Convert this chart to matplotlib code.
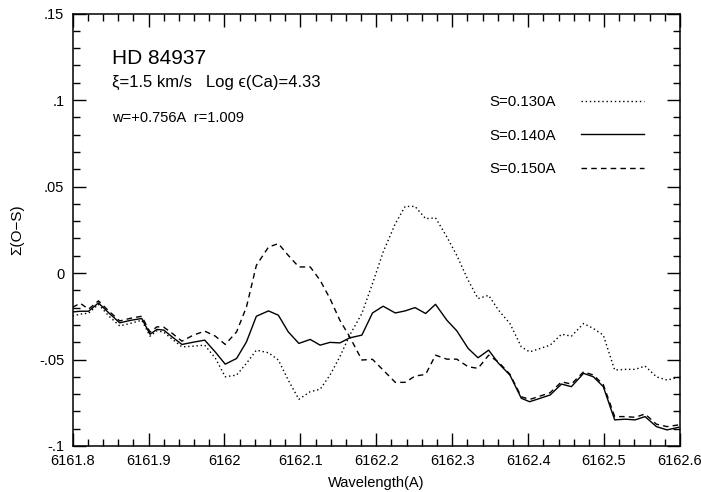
import matplotlib
matplotlib.use('Agg')
import matplotlib.pyplot as plt
from matplotlib.ticker import MultipleLocator

plt.rcParams['font.family'] = ['Liberation Sans', 'DejaVu Sans']

# wavelength grid (A)
wave = [6161.800, 6161.810, 6161.821, 6161.834, 6161.848, 6161.862, 6161.877, 6161.891,
        6161.902, 6161.911, 6161.920, 6161.931, 6161.944, 6161.959, 6161.974, 6161.988,
        6162.001, 6162.016, 6162.029, 6162.042, 6162.058, 6162.071, 6162.084, 6162.098,
        6162.113, 6162.126, 6162.139, 6162.152, 6162.165, 6162.181, 6162.195, 6162.209,
        6162.225, 6162.238, 6162.251, 6162.265, 6162.278, 6162.293, 6162.306, 6162.321,
        6162.334, 6162.348, 6162.361, 6162.376, 6162.391, 6162.402, 6162.416, 6162.429,
        6162.444, 6162.457, 6162.473, 6162.486, 6162.499, 6162.514, 6162.528, 6162.541,
        6162.554, 6162.569, 6162.583, 6162.598]

# S=0.130A (dotted)
s130 = [-0.0248, -0.0238, -0.0232, -0.0181, -0.0250, -0.0306, -0.0290, -0.0273,
        -0.0365, -0.0334, -0.0342, -0.0382, -0.0427, -0.0423, -0.0417, -0.0492,
        -0.0600, -0.0590, -0.0522, -0.0446, -0.0461, -0.0503, -0.0619, -0.0730,
        -0.0686, -0.0672, -0.0590, -0.0484, -0.0359, -0.0234, -0.0061, 0.0121,
        0.0285, 0.0385, 0.0385, 0.0314, 0.0319, 0.0208, 0.0102, -0.0042,
        -0.0148, -0.0129, -0.0215, -0.0292, -0.0427, -0.0456, -0.0436, -0.0417,
        -0.0354, -0.0365, -0.0292, -0.0321, -0.0359, -0.0561, -0.0557, -0.0557,
        -0.0538, -0.0600, -0.0619, -0.0603]

# S=0.140A (solid)
s140 = [-0.0225, -0.0221, -0.0221, -0.0173, -0.0232, -0.0288, -0.0273, -0.0263,
        -0.0354, -0.0326, -0.0330, -0.0369, -0.0413, -0.0400, -0.0388, -0.0457,
        -0.0527, -0.0494, -0.0398, -0.0250, -0.0219, -0.0244, -0.0340, -0.0407,
        -0.0384, -0.0417, -0.0401, -0.0404, -0.0375, -0.0359, -0.0231, -0.0192,
        -0.0231, -0.0219, -0.0200, -0.0234, -0.0181, -0.0273, -0.0334, -0.0436,
        -0.0490, -0.0446, -0.0522, -0.0590, -0.0724, -0.0744, -0.0724, -0.0705,
        -0.0642, -0.0657, -0.0580, -0.0600, -0.0657, -0.0849, -0.0845, -0.0849,
        -0.0830, -0.0888, -0.0907, -0.0892]

# S=0.150A (dashed)
s150 = [-0.0198, -0.0175, -0.0209, -0.0161, -0.0221, -0.0277, -0.0261, -0.0250,
        -0.0342, -0.0311, -0.0313, -0.0348, -0.0394, -0.0359, -0.0336, -0.0365,
        -0.0413, -0.0340, -0.0196, 0.0044, 0.0150, 0.0170, 0.0102, 0.0035,
        0.0035, -0.0042, -0.0148, -0.0273, -0.0369, -0.0503, -0.0499, -0.0561,
        -0.0632, -0.0632, -0.0596, -0.0586, -0.0475, -0.0498, -0.0498, -0.0542,
        -0.0551, -0.0475, -0.0515, -0.0585, -0.0715, -0.0731, -0.0711, -0.0692,
        -0.0629, -0.0642, -0.0571, -0.0590, -0.0645, -0.0830, -0.0830, -0.0834,
        -0.0815, -0.0874, -0.0888, -0.0878]

xticks = [6161.8, 6161.9, 6162.0, 6162.1, 6162.2, 6162.3, 6162.4, 6162.5, 6162.6]
xticklabels = ['6161.8', '6161.9', '6162', '6162.1', '6162.2', '6162.3', '6162.4', '6162.5', '6162.6']
yticks = [-0.1, -0.05, 0.0, 0.05, 0.1, 0.15]
yticklabels = ['-.1', '-.05', '0', '.05', '.1', '.15']

fig = plt.figure(figsize=(7.01, 4.92), dpi=100)
ax = fig.add_axes([0.1036, 0.0935, 0.8664, 0.879])

ax.plot(wave, s130, color='black', lw=1.0, ls=(0, (1, 2)), label='S=0.130A')
ax.plot(wave, s140, color='black', lw=1.0, ls='-', label='S=0.140A')
ax.plot(wave, s150, color='black', lw=1.0, ls=(0, (4, 3)), label='S=0.150A')

ax.set_xlim(6161.8, 6162.6)
ax.set_ylim(-0.1, 0.15)
ax.set_xticks(xticks)
ax.set_xticklabels(xticklabels)
ax.set_yticks(yticks)
ax.set_yticklabels(yticklabels)
ax.xaxis.set_minor_locator(MultipleLocator(0.02))
ax.yaxis.set_minor_locator(MultipleLocator(0.01))
ax.tick_params(which='both', direction='in', top=True, right=True, width=1.0, labelsize=10.5)
ax.tick_params(which='major', length=9.5, pad=6)
ax.tick_params(which='minor', length=5)
for sp in ax.spines.values():
    sp.set_linewidth(1.1)

ax.set_xlabel('Wavelength(A)', fontsize=10.5)
ax.xaxis.set_label_coords(0.5, -0.069)
ax.xaxis.label.set_va('top')
ax.set_ylabel('Σ(O−S)', fontsize=11)
ax.yaxis.set_label_coords(-0.0915, 0.5)
ax.yaxis.label.set_va('center')

# annotation block (figure pixel positions of the reference)
fig.text(112 / 701, 1 - 58 / 492, 'HD 84937', fontsize=15, va='center', ha='left')
fig.text(112 / 701, 1 - 82 / 492, 'ξ=1.5 km/s   Log ϵ(Ca)=4.33', fontsize=12,
         va='center', ha='left')
fig.text(112 / 701, 1 - 118 / 492, 'w=+0.756A  r=1.009', fontsize=10.5, va='center', ha='left')

leg = ax.legend(loc='upper left', bbox_to_anchor=(0.6855, 0.8116), frameon=False,
                markerfirst=False, fontsize=10.8, handlelength=4.2, handletextpad=1.7,
                labelspacing=1.3, borderpad=0, borderaxespad=0)

fig.savefig('out.png', dpi=100)
